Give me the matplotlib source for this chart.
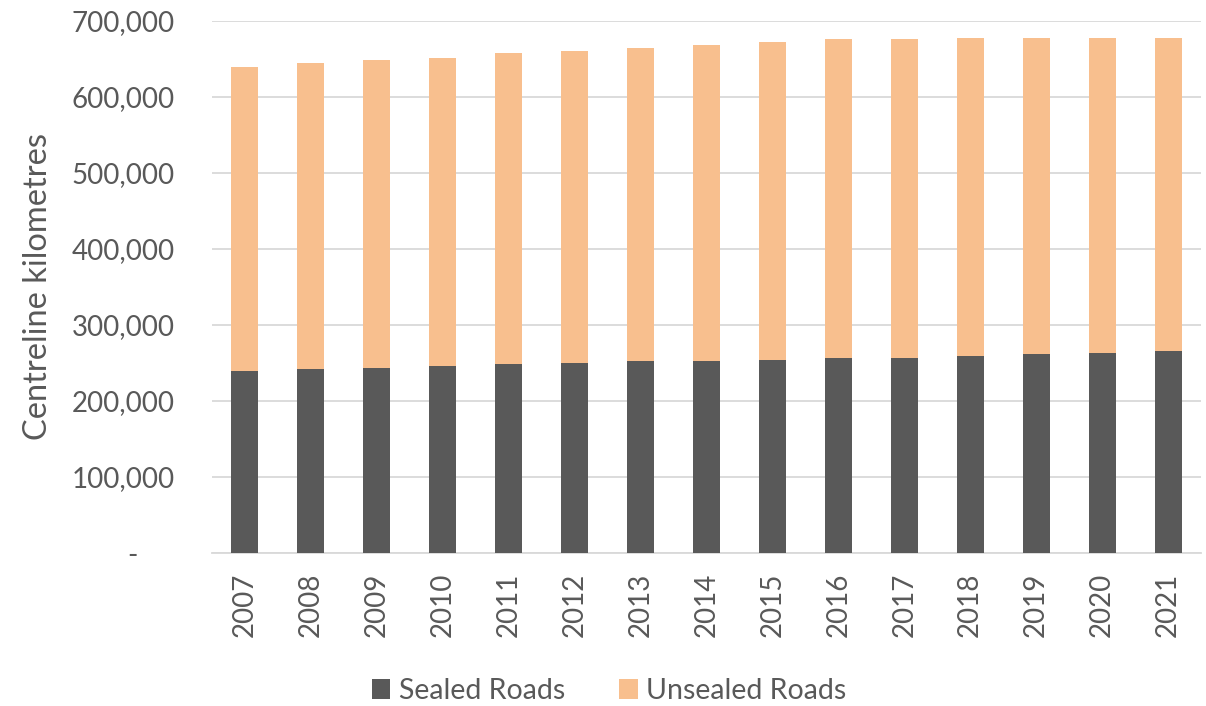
import matplotlib
matplotlib.use("Agg")
import matplotlib.pyplot as plt
from matplotlib.ticker import FuncFormatter, MultipleLocator

years = ["2007", "2008", "2009", "2010", "2011", "2012", "2013", "2014",
         "2015", "2016", "2017", "2018", "2019", "2020", "2021"]
sealed = [239500, 241700, 243900, 246500, 248300, 250500, 252800, 252500,
          254400, 256600, 256600, 258800, 261400, 263200, 265800]
unsealed = [400500, 402600, 405100, 404500, 409700, 409500, 411200, 416500,
            418600, 419100, 419100, 419200, 416600, 414800, 412200]

plt.rcParams['font.family'] = ['Lato', 'DejaVu Sans']
txt = '#595959'

fig = plt.figure(figsize=(12.06, 7.06), dpi=100)
ax = fig.add_axes([212/1206, 153/706, 989/1206, 532/706])

x = list(range(len(years)))
w = 0.41
ax.bar(x, sealed, width=w, color='#595959', label='Sealed Roads', zorder=3)
ax.bar(x, unsealed, width=w, bottom=sealed, color='#F8BF8E',
       label='Unsealed Roads', zorder=3)

ax.set_xlim(-0.5, len(years) - 0.5)
ax.set_ylim(0, 700000)
ax.yaxis.set_major_locator(MultipleLocator(100000))

def fmt(v, pos):
    if abs(v) < 1:
        return '-     '
    return f'{int(v):,}'
ax.yaxis.set_major_formatter(FuncFormatter(fmt))

ax.set_xticks(x)
ax.set_xticklabels(years, rotation=90)
ax.tick_params(axis='both', length=0, labelsize=20, colors=txt)
ax.tick_params(axis='y', pad=27)
ax.tick_params(axis='x', pad=14)

ax.grid(axis='y', color='#d9d9d9', linewidth=1.3, zorder=0)
for s in ['top', 'right', 'left']:
    ax.spines[s].set_visible(False)
ax.spines['bottom'].set_color('#d9d9d9')
ax.spines['bottom'].set_linewidth(1.3)

ax.set_ylabel('Centreline kilometres', fontsize=23.5, color=txt, labelpad=13)

fig.legend(loc='center', bbox_to_anchor=(0.505, 15/706), ncol=2,
           frameon=False, fontsize=20.5, labelcolor=txt, handlelength=0.65,
           handleheight=0.65, handletextpad=0.3, columnspacing=1.9)

fig.savefig('out.png', dpi=100)
